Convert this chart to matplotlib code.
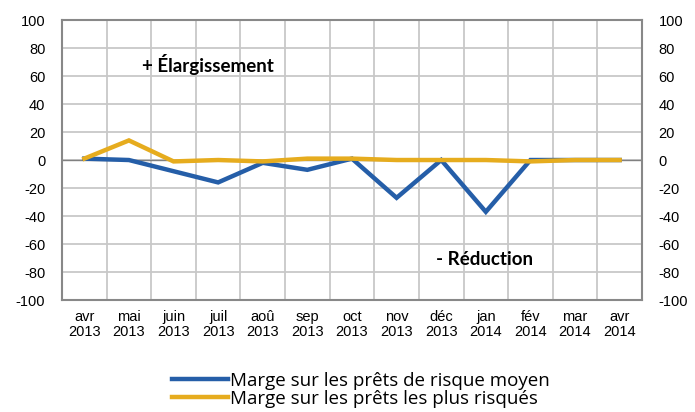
import numpy as np
import matplotlib
matplotlib.use("Agg")
import matplotlib.pyplot as plt

plt.rcParams["font.family"] = ["Liberation Sans", "DejaVu Sans"]
plt.rcParams["axes.unicode_minus"] = False

months = ["avr\n2013", "mai\n2013", "juin\n2013", "juil\n2013", "aoû\n2013",
          "sep\n2013", "oct\n2013", "nov\n2013", "déc\n2013", "jan\n2014",
          "fév\n2014", "mar\n2014", "avr\n2014"]
risque_moyen = [1, 0, -8, -16, -2, -7, 1, -27, 0, -37, 0, 0, 0]
plus_risques = [1, 14, -1, 0, -1, 1, 1, 0, 0, 0, -1, 0, 0]

blue = "#255EA8"
gold = "#E6AC1E"

fig = plt.figure(figsize=(6.95, 4.12), dpi=100)
ax = fig.add_axes([0.0892, 0.2718, 0.8345, 0.6796])

x = np.arange(len(months))
ax.plot(x, risque_moyen, color=blue, lw=3.2, solid_joinstyle="miter",
        label="Marge sur les prêts de risque moyen", zorder=3)
ax.plot(x, plus_risques, color=gold, lw=3.2, solid_joinstyle="miter",
        label="Marge sur les prêts les plus risqués", zorder=4)

ax.set_xlim(-0.5, len(months) - 0.5)
ax.set_ylim(-100, 100)
ax.set_yticks(np.arange(-100, 101, 20))
ax.set_xticks(x)
ax.set_xticklabels(months, fontsize=10.5, linespacing=1.15)
ax.set_xticks(np.arange(-0.5, len(months), 1), minor=True)
ax.tick_params(axis="x", which="both", length=0, pad=7)
ax.tick_params(axis="y", length=0, labelsize=10.5, pad=12)
ax.tick_params(axis="y", labelright=True, right=False)

ax.grid(True, which="minor", axis="x", color="#C8C8C8", lw=1.3)
ax.grid(True, which="major", axis="y", color="#C8C8C8", lw=1.3)
ax.set_axisbelow(True)
ax.axhline(0, color="#808080", lw=1.0, zorder=2)
for s in ax.spines.values():
    s.set_color("#888888")
    s.set_linewidth(1.5)

ax.text(2.77, 68, "+ Élargissement", fontsize=13.5, fontweight="bold",
        family="Lato", ha="center", va="center")
ax.text(8.98, -71, "- Réduction", fontsize=13.5, fontweight="bold",
        family="Lato", ha="center", va="center")

fig.legend(loc="upper left", bbox_to_anchor=(0.234, 0.12), frameon=False,
           prop={"family": "Open Sans", "size": 13.5}, handlelength=3.0,
           handletextpad=0.1, labelspacing=0.0, borderpad=0)

fig.savefig("out.png", dpi=100)
